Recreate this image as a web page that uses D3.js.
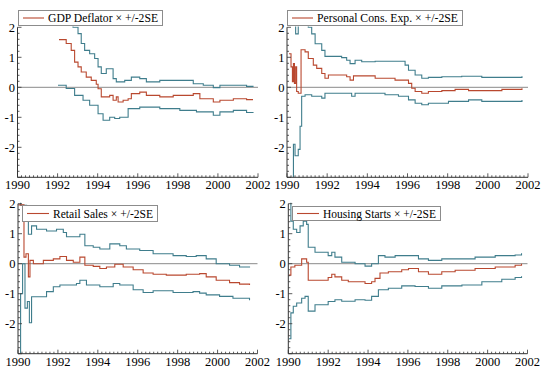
<!DOCTYPE html>
<html>
<head>
<meta charset="utf-8">
<script src="https://cdn.jsdelivr.net/npm/d3@7"></script>
<style>
  body { margin: 0; background: #fff; }
  svg { display: block; }
</style>
</head>
<body>
<svg id="chart" width="550" height="374" font-family="'Liberation Serif', 'Times New Roman', Times, serif"></svg>
<script>
// recursive estimates, [year, value]
const gdpMid = [[1992.07,1.59],[1992.43,1.46],[1992.68,1.23],[1992.85,0.84],[1993.02,0.68],[1993.18,0.51],[1993.43,0.34],[1993.68,0.23],[1993.93,0.1],[1994.02,-0.05],[1994.18,-0.32],[1994.6,-0.27],[1994.77,-0.43],[1994.93,-0.32],[1995.02,-0.49],[1995.27,-0.43],[1995.52,-0.38],[1995.68,-0.21],[1996.1,-0.16],[1996.43,-0.27],[1997.1,-0.32],[1997.77,-0.27],[1998.77,-0.21],[1999.1,-0.38],[1999.77,-0.49],[2000.1,-0.43],[2000.77,-0.38],[2001.43,-0.41],[2001.75,-0.41]];
const gdpUp = [[1992.07,2.6],[1992.77,2.0],[1993.02,1.79],[1993.18,1.46],[1993.35,1.23],[1993.6,1.12],[1993.85,0.96],[1994.02,0.68],[1994.18,0.46],[1994.43,0.62],[1994.77,0.29],[1994.93,0.18],[1995.35,0.23],[1995.68,0.34],[1996.1,0.29],[1996.43,0.18],[1997.1,0.23],[1998.1,0.23],[1998.77,0.12],[1999.27,0.07],[1999.77,-0.01],[2000.1,0.07],[2000.77,0.07],[2001.43,0.03],[2001.75,0.01]];
const gdpLo = [[1992.02,0.07],[1992.43,-0.04],[1992.85,-0.27],[1993.27,-0.43],[1993.6,-0.6],[1994.02,-0.88],[1994.27,-1.1],[1994.6,-1.0],[1994.85,-1.04],[1995.1,-1.0],[1995.52,-0.71],[1996.1,-0.66],[1997.1,-0.71],[1998.1,-0.77],[1998.93,-0.82],[1999.77,-0.93],[2000.1,-0.82],[2000.77,-0.77],[2001.43,-0.84],[2001.75,-0.86]];

const pceMid = [[1990.1,1.12],[1990.2,0.68],[1990.27,0.19],[1990.32,0.79],[1990.37,0.13],[1990.43,0.68],[1990.48,-0.14],[1990.56,-0.2],[1990.7,1.25],[1990.9,1.18],[1991.06,0.96],[1991.31,0.74],[1991.48,0.63],[1991.73,0.46],[1991.89,0.3],[1992.06,0.41],[1992.97,0.35],[1993.14,0.24],[1993.31,0.38],[1994.39,0.3],[1995.38,0.24],[1996.05,0.13],[1996.21,-0.03],[1996.38,-0.14],[1996.71,-0.2],[1997.04,-0.14],[1997.71,-0.11],[1998.37,-0.07],[1999.04,-0.11],[2000.7,-0.07],[2001.7,-0.03]];
const pceUp = [[1990.1,2.5],[1990.43,1.78],[1990.56,2.5],[1991.06,2.0],[1991.23,1.78],[1991.4,1.45],[1991.73,1.23],[1991.89,1.03],[1992.72,0.99],[1992.97,0.9],[1993.14,0.79],[1993.39,0.9],[1993.72,0.85],[1994.39,0.87],[1995.88,0.74],[1996.05,0.57],[1996.38,0.41],[1996.71,0.3],[1997.04,0.33],[1997.71,0.35],[1998.7,0.37],[1999.7,0.33],[2001.03,0.33],[2001.7,0.37]];
const pceLo = [[1990.1,-3.2],[1990.32,-1.9],[1990.4,-2.28],[1990.56,-2.07],[1990.65,-1.3],[1990.73,-0.3],[1990.9,-0.25],[1991.23,-0.3],[1991.73,-0.36],[1991.89,-0.2],[1993.22,-0.3],[1993.39,-0.2],[1994.88,-0.25],[1995.55,-0.3],[1996.05,-0.42],[1996.38,-0.53],[1996.71,-0.58],[1997.04,-0.53],[1998.04,-0.47],[1999.04,-0.42],[1999.7,-0.47],[2001.7,-0.42]];

const retMid = [[1990.02,1.96],[1990.3,0.22],[1990.4,0.33],[1990.52,-0.44],[1990.6,0.11],[1990.77,0],[1991.27,0.11],[1991.77,0.16],[1992.1,0.24],[1992.43,0.11],[1992.77,0.05],[1993.1,0.22],[1993.35,-0.05],[1993.77,-0.09],[1994.1,-0.16],[1994.43,-0.11],[1994.85,-0.02],[1995.27,-0.11],[1995.77,-0.2],[1996.27,-0.31],[1996.77,-0.35],[1997.43,-0.38],[1998.43,-0.35],[1999.1,-0.33],[1999.43,-0.44],[1999.93,-0.55],[2000.6,-0.63],[2001.1,-0.68],[2001.6,-0.71]];
const retUp = [[1990.02,2.5],[1990.13,1.95],[1990.43,1.9],[1990.52,0.98],[1990.68,1.26],[1990.93,1.15],[1991.43,1.09],[1991.93,1.15],[1992.27,1.04],[1992.43,0.9],[1993.1,0.98],[1993.35,0.6],[1993.77,0.55],[1994.1,0.49],[1994.6,0.66],[1995.1,0.6],[1995.43,0.49],[1996.1,0.44],[1996.77,0.33],[1997.77,0.27],[1998.43,0.24],[1998.93,0.27],[1999.43,0.16],[1999.93,0],[2000.6,-0.05],[2001.1,-0.11],[2001.6,-0.13]];
const retLo = [[1990.02,-3.2],[1990.13,-1.0],[1990.23,0.0],[1990.35,-1.48],[1990.47,-1.26],[1990.57,-1.97],[1990.68,-1.1],[1991.43,-0.93],[1991.77,-0.77],[1992.1,-0.71],[1992.93,-0.66],[1993.1,-0.55],[1993.43,-0.71],[1994.1,-0.77],[1994.77,-0.66],[1995.1,-0.71],[1995.77,-0.87],[1996.27,-0.96],[1996.77,-0.9],[1997.77,-0.96],[1998.77,-0.93],[1999.1,-0.98],[1999.43,-1.04],[2000.1,-1.09],[2000.77,-1.15],[2001.6,-1.22]];

const hsMid = [[1990.03,-0.38],[1990.13,-0.11],[1990.33,-0.05],[1990.67,0.16],[1990.92,0.05],[1991.0,-0.55],[1992.0,-0.46],[1992.18,-0.35],[1992.34,-0.44],[1992.68,-0.55],[1993.01,-0.6],[1993.85,-0.66],[1994.18,-0.6],[1994.35,-0.49],[1994.6,-0.31],[1995.02,-0.27],[1995.69,-0.2],[1996.03,-0.16],[1996.53,-0.27],[1997.03,-0.35],[1997.7,-0.27],[1998.37,-0.22],[1999.37,-0.16],[2000.38,-0.11],[2001.38,-0.05],[2001.7,0.0]];
const hsUp = [[1990.03,2.5],[1990.13,1.42],[1990.25,1.15],[1990.42,1.04],[1990.59,1.26],[1990.75,1.42],[1990.92,1.31],[1991.0,0.55],[1991.34,0.38],[1992.0,0.27],[1992.18,0.38],[1992.34,0.22],[1992.68,0.05],[1993.35,0.0],[1993.85,-0.08],[1994.18,0.0],[1994.52,0.27],[1994.85,0.22],[1995.36,0.27],[1996.53,0.16],[1997.03,0.11],[1997.7,0.16],[1999.37,0.22],[2000.38,0.27],[2001.38,0.29],[2001.7,0.35]];
const hsLo = [[1990.03,-2.5],[1990.13,-1.64],[1990.25,-1.42],[1990.42,-1.31],[1990.67,-1.15],[1990.84,-1.09],[1991.0,-1.58],[1991.34,-1.37],[1992.0,-1.26],[1992.34,-1.2],[1992.68,-1.25],[1993.35,-1.2],[1993.85,-1.22],[1994.18,-1.09],[1994.52,-0.87],[1995.02,-0.82],[1995.69,-0.74],[1996.36,-0.76],[1997.03,-0.82],[1997.7,-0.74],[1998.71,-0.71],[1999.71,-0.6],[2000.71,-0.52],[2001.38,-0.46],[2001.7,-0.42]];

const legendLabels = ["GDP Deflator × +/-2SE", "Personal Cons. Exp. × +/-2SE", "Retail Sales × +/-2SE", "Housing Starts × +/-2SE"];
const xTicks = [1990, 1992, 1994, 1996, 1998, 2000, 2002];
const yTicks = [-2, -1, 0, 1, 2];

const midColor = "#b9482f";
const bandColor = "#3f7d8c";

// panel boxes in pixels
const panels = [
    {mid: gdpMid, up: gdpUp, lo: gdpLo, label: legendLabels[0], x0: 17.5, x1: 258, yTop: 27.3, yBot: 177.3,
     leg: {x: 18, y: 10, w: 144, h: 15, tx: 48}},
    {mid: pceMid, up: pceUp, lo: pceLo, label: legendLabels[1], x0: 287, x1: 528, yTop: 27.3, yBot: 177.3,
     leg: {x: 287, y: 10, w: 175, h: 15, tx: 317}},
    {mid: retMid, up: retUp, lo: retLo, label: legendLabels[2], x0: 18, x1: 257.5, yTop: 203.7, yBot: 353.7,
     leg: {x: 22, y: 205, w: 135, h: 16, tx: 53}},
    {mid: hsMid, up: hsUp, lo: hsLo, label: legendLabels[3], x0: 288.3, x1: 527.5, yTop: 203.7, yBot: 353.7,
     leg: {x: 292, y: 206, w: 148, h: 14, tx: 323}}
];

const svg = d3.select("#chart");

panels.forEach((p, i) => {
    let g = svg.append("g");

    let x = d3.scaleLinear().domain([1990, 2002]).range([p.x0, p.x1]);
    let y = d3.scaleLinear().domain([-3, 2]).range([p.yBot, p.yTop]);

    g.append("clipPath").attr("id", "clip" + i)
        .append("rect")
        .attr("x", p.x0).attr("y", y(2.03))
        .attr("width", p.x1 - p.x0).attr("height", p.yBot - y(2.03));

    // zero line
    g.append("line")
        .attr("x1", x(1990)).attr("x2", x(2002))
        .attr("y1", y(0)).attr("y2", y(0))
        .attr("stroke", "#8a8a8a").attr("stroke-width", 1);

    let line = d3.line()
        .x(d => x(d[0]))
        .y(d => y(d[1]))
        .curve(d3.curveStepAfter);

    let lines = g.append("g").attr("clip-path", `url(#clip${i})`);
    [p.up, p.lo].forEach(s => {
        lines.append("path").datum(s)
            .attr("d", line)
            .attr("fill", "none")
            .attr("stroke", bandColor)
            .attr("stroke-width", 1.1);
    });
    lines.append("path").datum(p.mid)
        .attr("d", line)
        .attr("fill", "none")
        .attr("stroke", midColor)
        .attr("stroke-width", 1.1);

    // x axis, ticks pointing inward
    let xMinor = d3.range(1990, 2002.01, 0.2);
    g.append("g").selectAll("line").data(xMinor).join("line")
        .attr("x1", d => x(d)).attr("x2", d => x(d))
        .attr("y1", p.yBot).attr("y2", (d, k) => k % 10 === 0 ? p.yBot - 4 : p.yBot - 2)
        .attr("stroke", "#333").attr("stroke-width", 0.8);
    g.append("line")
        .attr("x1", x(1990)).attr("x2", x(2002))
        .attr("y1", p.yBot).attr("y2", p.yBot)
        .attr("stroke", "#333").attr("stroke-width", 1);
    g.append("g").selectAll("text").data(xTicks).join("text")
        .attr("x", d => x(d)).attr("y", p.yBot + 12)
        .attr("text-anchor", "middle")
        .attr("font-size", 12.5)
        .text(d => d);

    // y axis
    let yMinor = d3.range(-3, 2.01, 0.2);
    g.append("g").selectAll("line").data(yMinor).join("line")
        .attr("x1", p.x0).attr("x2", (d, k) => k % 5 === 0 ? p.x0 + 4 : p.x0 + 2)
        .attr("y1", d => y(d)).attr("y2", d => y(d))
        .attr("stroke", "#333").attr("stroke-width", 0.8);
    g.append("line")
        .attr("x1", p.x0).attr("x2", p.x0)
        .attr("y1", p.yBot).attr("y2", y(2))
        .attr("stroke", "#333").attr("stroke-width", 1);
    g.append("g").selectAll("text").data(yTicks).join("text")
        .attr("x", p.x0 - 2.5).attr("y", d => y(d) + 4.5)
        .attr("text-anchor", "end")
        .attr("font-size", 12.5)
        .text(d => d);

    // legend
    let l = p.leg;
    g.append("rect")
        .attr("x", l.x + 0.5).attr("y", l.y + 0.5)
        .attr("width", l.w).attr("height", l.h)
        .attr("fill", "#fff").attr("stroke", "#8c8c8c").attr("stroke-width", 1);
    g.append("line")
        .attr("x1", l.x + 5).attr("x2", l.tx - 4)
        .attr("y1", l.y + l.h / 2 + 0.5).attr("y2", l.y + l.h / 2 + 0.5)
        .attr("stroke", midColor).attr("stroke-width", 1.1);
    g.append("text")
        .attr("x", l.tx).attr("y", l.y + l.h / 2 + 4.5)
        .attr("font-size", 12)
        .attr("textLength", l.x + l.w - l.tx - 4)
        .attr("lengthAdjust", "spacingAndGlyphs")
        .text(p.label);
});
</script>
</body>
</html>
